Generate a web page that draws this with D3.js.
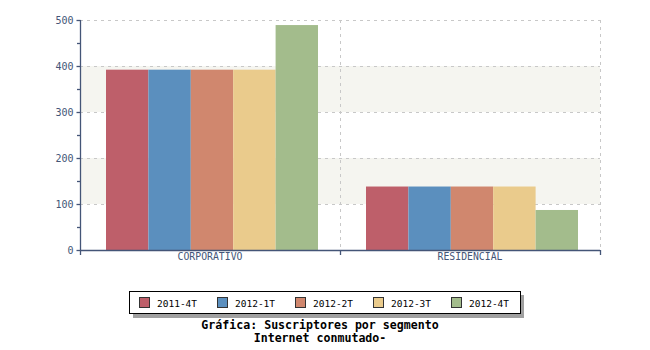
<!DOCTYPE html>
<html><head><meta charset="utf-8">
<script src="https://cdn.jsdelivr.net/npm/d3@7"></script>
<style>body{margin:0;background:#fff}svg{display:block}</style>
</head><body><svg id="c" width="650" height="350"></svg>
<script>
const categories = ["CORPORATIVO", "RESIDENCIAL"];
const seriesNames = ["2011-4T", "2012-1T", "2012-2T", "2012-3T", "2012-4T"];
const values = {
  "2011-4T": [392, 138],
  "2012-1T": [392, 138],
  "2012-2T": [392, 138],
  "2012-3T": [392, 138],
  "2012-4T": [489, 87]
};
const colors = ["#be5f6a", "#5b8fbe", "#d0876e", "#eacb8c", "#a3bc8c"];
const yTicks = [0, 100, 200, 300, 400, 500];
const title1 = "Gráfica: Suscriptores por segmento";
const title2 = "Internet conmutado-";

const svg = d3.select("#c");
const L = 80, R = 600, T = 20, B = 250;
const axisCol = "#445577";
const font = "'DejaVu Sans Mono', monospace";

const x = d3.scaleBand().domain(categories).range([L, R]);
const y = d3.scaleLinear().domain([0, 500]).range([B, T]);
const xs = d3.scaleBand().domain(seriesNames).range([26, 238]).padding(0);

// alternating bands
[[100,200],[300,400]].forEach(([a,b]) => {
  svg.append("rect").attr("x", L).attr("y", y(b)).attr("width", R-L).attr("height", y(a)-y(b)).attr("fill", "#f5f5f0");
});
// horizontal grid
svg.append("g").selectAll("line").data(yTicks.filter(d=>d>0)).join("line")
  .attr("x1", L).attr("x2", R).attr("y1", d=>y(d)+0.5).attr("y2", d=>y(d)+0.5)
  .attr("stroke", "#c8c8c8").attr("stroke-dasharray", "3,4");
// vertical grid
svg.append("g").selectAll("line").data([x("RESIDENCIAL"), R]).join("line")
  .attr("x1", d=>d+0.5).attr("x2", d=>d+0.5).attr("y1", T).attr("y2", B)
  .attr("stroke", "#c8c8c8").attr("stroke-dasharray", "3,4");

// bars
seriesNames.forEach((s, i) => {
  svg.append("g").selectAll("rect").data(categories.map((c, j) => ({c, v: values[s][j]}))).join("rect")
    .attr("x", d => x(d.c) + xs(s)).attr("width", xs.bandwidth())
    .attr("y", d => y(d.v)).attr("height", d => B - y(d.v))
    .attr("fill", colors[i]);
});

// y axis
const yAxis = d3.axisLeft(y).tickValues(yTicks).tickSize(4).tickPadding(3);
const gy = svg.append("g").attr("transform", `translate(${L+0.5},0)`).call(yAxis);
gy.select(".domain").attr("stroke", axisCol).attr("stroke-width", 1.3).attr("d", `M0,${T}V${B}`);
gy.selectAll(".tick line").attr("stroke", axisCol).attr("stroke-width", 1.3);
gy.selectAll(".tick text").attr("fill", axisCol).style("font", `10px ${font}`);
// minor ticks
svg.append("g").selectAll("line").data([50,150,250,350,450]).join("line")
  .attr("x1", L-3).attr("x2", L).attr("y1", d=>y(d)+0.5).attr("y2", d=>y(d)+0.5)
  .attr("stroke", axisCol).attr("stroke-width", 1.3);

// x axis
const xAxis = d3.axisBottom(x).tickSize(0).tickPadding(3);
const gx = svg.append("g").attr("transform", `translate(0,${B+0.5})`).call(xAxis);
gx.select(".domain").attr("stroke", axisCol).attr("stroke-width", 1.3).attr("d", `M${L},0H${R}`);
gx.selectAll(".tick text").attr("fill", axisCol).style("font", `9.8px ${font}`);
svg.append("g").selectAll("line").data([L, x("RESIDENCIAL"), R]).join("line")
  .attr("x1", d=>d+0.5).attr("x2", d=>d+0.5).attr("y1", B).attr("y2", B+5)
  .attr("stroke", axisCol).attr("stroke-width", 1.3);

// legend
const lg = svg.append("g");
lg.append("rect").attr("x", 133).attr("y", 295).attr("width", 391).attr("height", 23).attr("fill", "#a0a0a0");
lg.append("rect").attr("x", 129.5).attr("y", 291.5).attr("width", 391).attr("height", 22).attr("fill", "#fff").attr("stroke", "#000");
seriesNames.forEach((s, i) => {
  const gx0 = 139 + i*78;
  lg.append("rect").attr("x", gx0+0.5).attr("y", 297.5).attr("width", 10).attr("height", 10)
    .attr("fill", colors[i]).attr("stroke", "#333");
  lg.append("text").attr("x", gx0+18).attr("y", 306.5).text(s)
    .style("font", `9.5px ${font}`).attr("fill", "#000");
});

// title
svg.append("text").attr("x", 320).attr("y", 329).attr("text-anchor", "middle").text(title1)
  .style("font", `bold 11.6px ${font}`).attr("fill", "#000");
svg.append("text").attr("x", 320).attr("y", 342).attr("text-anchor", "middle").text(title2)
  .style("font", `bold 11.6px ${font}`).attr("fill", "#000");
</script></body></html>
